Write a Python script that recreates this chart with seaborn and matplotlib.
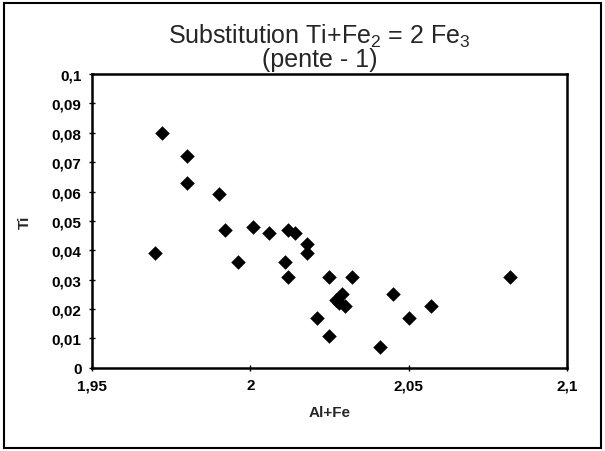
import matplotlib
matplotlib.use("Agg")
import matplotlib.pyplot as plt
import seaborn as sns
import pandas as pd
import numpy as np
from matplotlib.patches import Rectangle
from matplotlib.ticker import FuncFormatter, MultipleLocator

al_fe = [1.972, 1.980, 1.980, 1.990, 1.992, 2.001, 2.006, 2.012, 2.014, 2.018,
         2.018, 1.970, 1.996, 2.011, 2.012, 2.025, 2.032, 2.027, 2.029, 2.030,
         2.028, 2.021, 2.025, 2.045, 2.050, 2.057, 2.041, 2.082]
ti = [0.080, 0.072, 0.063, 0.059, 0.047, 0.048, 0.046, 0.047, 0.046, 0.042,
      0.039, 0.039, 0.036, 0.036, 0.031, 0.031, 0.031, 0.023, 0.025, 0.021,
      0.022, 0.017, 0.011, 0.025, 0.017, 0.021, 0.007, 0.031]

title = "Substitution Ti+Fe$_2$ = 2 Fe$_3$\n(pente - 1)"
xlabel = "Al+Fe"
ylabel = "Ti"

df = pd.DataFrame({"x": al_fe, "y": ti})

sns.set_style("white")
plt.rcParams["font.family"] = ["Liberation Sans", "DejaVu Sans"]
plt.rcParams["mathtext.fontset"] = "custom"
plt.rcParams["mathtext.rm"] = "Liberation Sans"
plt.rcParams["mathtext.it"] = "Liberation Sans"

fig = plt.figure(figsize=(6.05, 4.52), dpi=100)
ax = fig.add_axes([0.152, 0.184, 0.785, 0.650])
sns.scatterplot(data=df, x="x", y="y", marker="D", s=55, color="black",
                edgecolor="black", linewidth=0, ax=ax)

ax.set_xlim(1.95, 2.1)
ax.set_ylim(0, 0.1)
ax.xaxis.set_major_locator(MultipleLocator(0.05))
ax.yaxis.set_major_locator(MultipleLocator(0.01))

def fmt(v, pos):
    s = f"{v:.2f}".rstrip("0").rstrip(".")
    return s.replace(".", ",")

ax.xaxis.set_major_formatter(FuncFormatter(fmt))
ax.yaxis.set_major_formatter(FuncFormatter(fmt))
for sp in ax.spines.values():
    sp.set_visible(True)
    sp.set_color("black")
    sp.set_linewidth(1.8)
ax.tick_params(direction="inout", length=5, width=1, colors="black",
               labelsize=11, pad=5, left=True, bottom=True)
for lab in ax.get_xticklabels() + ax.get_yticklabels():
    lab.set_fontweight("bold")
ax.xaxis.labelpad = 9

ax.set_xlabel(xlabel, fontsize=11, fontweight="bold")
ax.set_ylabel(ylabel, fontsize=11, fontweight="bold", labelpad=14)
fig.text(0.528, 0.896, title, ha="center", va="center", fontsize=18,
         linespacing=0.9)

fig.patches.append(Rectangle((0.006, 0.006), 0.988, 0.986, transform=fig.transFigure,
                             fill=False, edgecolor="black", linewidth=1.5))

fig.savefig("out.png", dpi=100)
